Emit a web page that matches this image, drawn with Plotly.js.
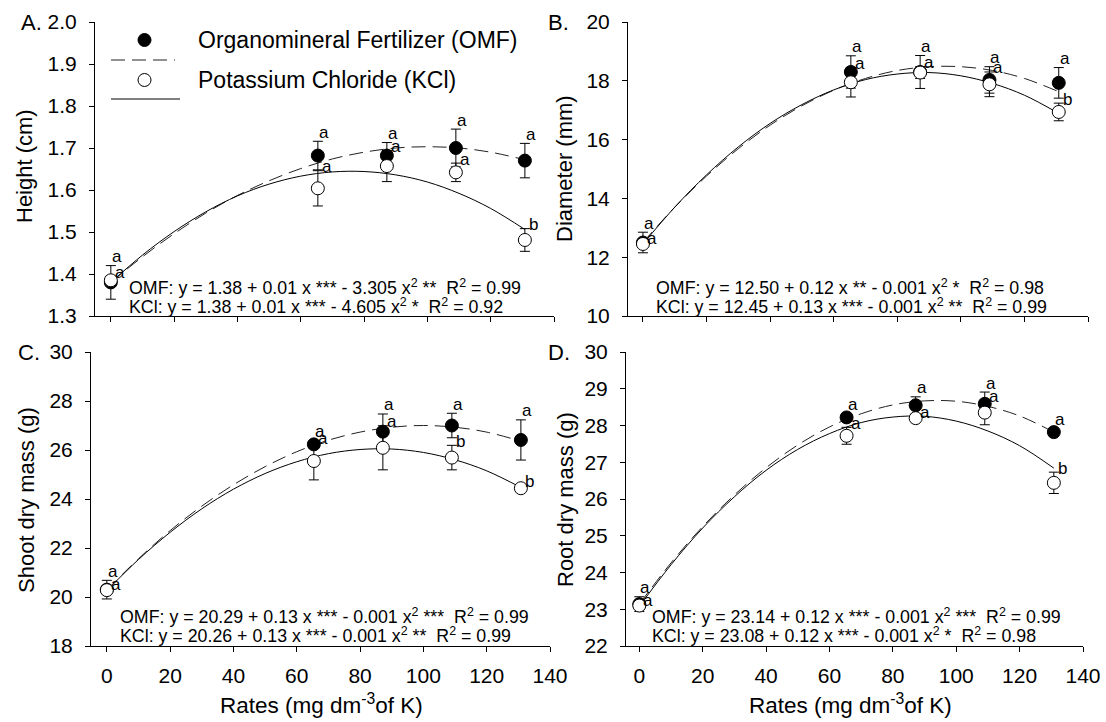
<!DOCTYPE html>
<html>
<head>
<meta charset="utf-8">
<script src="https://cdn.plot.ly/plotly-3.0.1.min.js"></script>
<style>html,body{margin:0;padding:0;background:#fff;}#chart{width:1106px;height:722px;}</style>
</head>
<body>
<div id="chart"></div>
<script>
// ---------- data ----------
const rates = [0, 65.4, 87.2, 109, 130.8];
const curveX = [0, 10, 20, 30, 40, 50, 60, 70, 80, 90, 100, 110, 120, 130.8];

const heightOMF = [1.38, 1.682, 1.682, 1.70, 1.67];
const heightOMFErr = [0.04, 0.034, 0.031, 0.045, 0.041];
const heightKCl = [1.385, 1.604, 1.657, 1.642, 1.481];
const heightKClErr = [0.01, 0.042, 0.037, 0.022, 0.027];
const heightOMFFit = [1.380, 1.441, 1.496, 1.545, 1.587, 1.622, 1.651, 1.674, 1.690, 1.700, 1.703, 1.700, 1.690, 1.672];
const heightKClFit = [1.380, 1.445, 1.501, 1.548, 1.586, 1.614, 1.633, 1.643, 1.644, 1.636, 1.619, 1.592, 1.556, 1.506];

const diamOMF = [12.50, 18.30, 18.30, 18.03, 17.93];
const diamOMFErr = [0.35, 0.55, 0.56, 0.45, 0.52];
const diamKCl = [12.45, 17.95, 18.28, 17.88, 16.94];
const diamKClErr = [0.05, 0.5, 0.2, 0.42, 0.3];
const diamOMFFit = [12.50, 13.70, 14.76, 15.69, 16.49, 17.15, 17.68, 18.08, 18.35, 18.48, 18.48, 18.35, 18.08, 17.63];
const diamKClFit = [12.45, 13.70, 14.80, 15.75, 16.55, 17.19, 17.69, 18.04, 18.23, 18.28, 18.17, 17.91, 17.51, 16.89];

const shootOMF = [20.30, 26.23, 26.75, 27.00, 26.41];
const shootOMFErr = [0.38, 0.15, 0.72, 0.5, 0.82];
const shootKCl = [20.28, 25.55, 26.09, 25.69, 24.44];
const shootKClErr = [0.05, 0.77, 0.9, 0.5, 0.1];
const shootOMFFit = [20.29, 21.56, 22.71, 23.71, 24.58, 25.32, 25.93, 26.40, 26.73, 26.93, 27.00, 26.93, 26.73, 26.36];
const shootKClFit = [20.26, 21.53, 22.64, 23.60, 24.40, 25.04, 25.52, 25.85, 26.02, 26.04, 25.90, 25.60, 25.15, 24.47];

const rootOMF = [23.14, 28.22, 28.55, 28.59, 27.82];
const rootOMFErr = [0.2, 0.1, 0.23, 0.32, 0.1];
const rootKCl = [23.10, 27.72, 28.20, 28.35, 26.44];
const rootKClErr = [0.02, 0.23, 0.05, 0.33, 0.29];
const rootOMFFit = [23.14, 24.26, 25.25, 26.11, 26.85, 27.47, 27.96, 28.32, 28.56, 28.67, 28.66, 28.52, 28.26, 27.82];
const rootKClFit = [23.08, 24.21, 25.21, 26.06, 26.78, 27.35, 27.78, 28.08, 28.23, 28.25, 28.12, 27.85, 27.45, 26.84];

const lettersOMF_A = ['a', 'a', 'a', 'a', 'a'];
const lettersKCl_A = ['a', 'a', 'a', 'a', 'b'];
const lettersOMF_B = ['a', 'a', 'a', 'a', 'a'];
const lettersKCl_B = ['a', 'a', 'a', 'a', 'b'];
const lettersOMF_C = ['a', 'a', 'a', 'a', 'a'];
const lettersKCl_C = ['a', 'a', 'a', 'b', 'b'];
const lettersOMF_D = ['a', 'a', 'a', 'a', 'a'];
const lettersKCl_D = ['a', 'a', 'a', 'a', 'b'];

const xTicks = [0, 20, 40, 60, 80, 100, 120, 140];
const eqA = ['OMF: y = 1.38 + 0.01 x *** - 3.305 x<sup>2</sup> ** &nbsp;R<sup>2</sup> = 0.99',
             'KCl: y = 1.38 + 0.01 x *** - 4.605 x<sup>2</sup> * &nbsp;R<sup>2</sup> = 0.92'];
const eqB = ['OMF: y = 12.50 + 0.12 x ** - 0.001 x<sup>2</sup> * &nbsp;R<sup>2</sup> = 0.98',
             'KCl: y = 12.45 + 0.13 x *** - 0.001 x<sup>2</sup> ** &nbsp;R<sup>2</sup> = 0.99'];
const eqC = ['OMF: y = 20.29 + 0.13 x *** - 0.001 x<sup>2</sup> *** &nbsp;R<sup>2</sup> = 0.99',
             'KCl: y = 20.26 + 0.13 x *** - 0.001 x<sup>2</sup> ** &nbsp;R<sup>2</sup> = 0.99'];
const eqD = ['OMF: y = 23.14 + 0.12 x *** - 0.001 x<sup>2</sup> *** &nbsp;R<sup>2</sup> = 0.99',
             'KCl: y = 23.08 + 0.12 x *** - 0.001 x<sup>2</sup> * &nbsp;R<sup>2</sup> = 0.98'];
const yTitles = ['Height (cm)', 'Diameter (mm)', 'Shoot dry mass (g)', 'Root dry mass (g)'];
const panelLabels = ['A.', 'B.', 'C.', 'D.'];
const xTitle = 'Rates (mg dm<sup>-3</sup>of K)';
const legendNames = ['Organomineral Fertilizer (OMF)', 'Potassium Chloride (KCl)'];

// ---------- helpers ----------
const W = 1106, H = 722;
const FONT = 'Liberation Sans, Arial, sans-serif';
const px = v => v / W;
const py = v => 1 - v / H;

const traces = [];
const annotations = [];
function letters(ax, vals, errs, labs, dx, dy) {
  const xr = 'x' + ax, yr = 'y' + ax;
  vals.forEach((v, i) => {
    annotations.push({xref: xr, yref: yr, x: rates[i], y: v + errs[i], text: labs[i], showarrow: false,
      xanchor: 'left', yanchor: 'middle', xshift: dx, yshift: dy, borderpad: 0,
      font: {family: FONT, size: 17, color: '#000'}});
  });
}
function panel(ax, omf, omfErr, kcl, kclErr, omfFit, kclFit, lo, lk) {
  const xa = 'x' + ax, ya = 'y' + ax;
  traces.push({x: curveX, y: omfFit, xaxis: xa, yaxis: ya, mode: 'lines', line: {shape: 'spline', color: '#222', width: 1, dash: '14px,7px'}, hoverinfo: 'skip'});
  traces.push({x: curveX, y: kclFit, xaxis: xa, yaxis: ya, mode: 'lines', line: {shape: 'spline', color: '#000', width: 1}, hoverinfo: 'skip'});
  traces.push({x: rates, y: omf, xaxis: xa, yaxis: ya, mode: 'markers', cliponaxis: false,
    marker: {symbol: 'circle', size: 13, color: '#000', line: {color: '#000', width: 1}},
    error_y: {type: 'data', array: omfErr, visible: true, color: '#000', thickness: 1, width: 5}});
  traces.push({x: rates, y: kcl, xaxis: xa, yaxis: ya, mode: 'markers', cliponaxis: false,
    marker: {symbol: 'circle', size: 13, color: '#fff', line: {color: '#000', width: 1}},
    error_y: {type: 'data', array: kclErr, visible: true, color: '#000', thickness: 1, width: 5}});
  letters(ax, omf, omfErr, lo, 0, 9);
  letters(ax, kcl, kclErr, lk, 3, 4);
}
panel('', heightOMF, heightOMFErr, heightKCl, heightKClErr, heightOMFFit, heightKClFit, lettersOMF_A, lettersKCl_A);
panel('2', diamOMF, diamOMFErr, diamKCl, diamKClErr, diamOMFFit, diamKClFit, lettersOMF_B, lettersKCl_B);
panel('3', shootOMF, shootOMFErr, shootKCl, shootKClErr, shootOMFFit, shootKClFit, lettersOMF_C, lettersKCl_C);
panel('4', rootOMF, rootOMFErr, rootKCl, rootKClErr, rootOMFFit, rootKClFit, lettersOMF_D, lettersKCl_D);

function xAxis(l, r, lo, anchor, labels) {
  return {domain: [px(l), px(r)], range: [lo, 140], anchor: anchor, tickvals: xTicks, showticklabels: labels,
    ticks: 'outside', ticklen: 5, tickwidth: 1, tickcolor: '#000', showline: true, linecolor: '#000', linewidth: 1,
    showgrid: false, zeroline: false, ticklabelstandoff: 6, tickfont: {family: FONT, size: 21, color: '#000'}, fixedrange: true};
}
function yAxis(top, bot, range, dtick, fmt, anchor) {
  return {domain: [py(bot), py(top)], range: range, anchor: anchor, dtick: dtick, tick0: range[0], tickformat: fmt,
    ticks: 'outside', ticklen: 5, tickwidth: 1, tickcolor: '#000', showline: true, linecolor: '#000', linewidth: 1,
    showgrid: false, zeroline: false, ticklabelstandoff: 8, tickfont: {family: FONT, size: 21, color: '#000'}, fixedrange: true};
}

function txt(x, y, text, size, opts) {
  annotations.push(Object.assign({xref: 'paper', yref: 'paper', x: px(x), y: py(y), text: text, showarrow: false,
    xanchor: 'left', yanchor: 'middle', font: {family: FONT, size: size, color: '#000'}}, opts || {}));
}
// equations
[[eqA, 127, 287], [eqB, 654, 287], [eqC, 118, 616], [eqD, 650, 616]].forEach(([eq, x, y]) => {
  txt(x, y, eq[0], 17.8);
  txt(x, y + 19, eq[1], 17.8);
});
// panel labels
[[19, 22], [546, 22], [16, 352], [546, 352]].forEach(([x, y], i) => txt(x, y, panelLabels[i], 22));
// y titles
[[24, 166], [564, 169], [26, 500], [565, 500]].forEach(([x, y], i) => txt(x, y, yTitles[i], 22, {textangle: -90, xanchor: 'center'}));
// x titles
[[321, 704], [851, 704]].forEach(([x, y]) => txt(x, y, xTitle, 22.5, {xanchor: 'center'}));
// legend text
txt(196, 40, legendNames[0], 23);
txt(196, 80, legendNames[1], 23);

const shapes = [
  {type: 'circle', xref: 'paper', yref: 'paper', x0: px(138), x1: px(151), y0: py(46.5), y1: py(33.5), fillcolor: '#000', line: {color: '#000', width: 1}},
  {type: 'circle', xref: 'paper', yref: 'paper', x0: px(138), x1: px(151), y0: py(86.5), y1: py(73.5), fillcolor: '#fff', line: {color: '#000', width: 1}},
  {type: 'line', xref: 'paper', yref: 'paper', x0: px(111), x1: px(175), y0: py(60), y1: py(60), line: {color: '#222', width: 1, dash: '14px,7px'}},
  {type: 'line', xref: 'paper', yref: 'paper', x0: px(111), x1: px(180), y0: py(99), y1: py(99), line: {color: '#000', width: 1}}
];

const layout = {
  width: W, height: H, margin: {l: 0, r: 0, t: 0, b: 0}, paper_bgcolor: '#fff', plot_bgcolor: 'rgba(0,0,0,0)',
  showlegend: false, font: {family: FONT, color: '#000'},
  xaxis: xAxis(95, 554, -5, 'y', false),
  yaxis: yAxis(22, 316, [1.3, 2.0], 0.1, '.1f', 'x'),
  xaxis2: xAxis(628, 1088, -4.7, 'y2', false),
  yaxis2: yAxis(22, 316, [10, 20], 2, 'd', 'x2'),
  xaxis3: xAxis(91, 550, -5, 'y3', true),
  yaxis3: yAxis(352, 646, [18, 30], 2, 'd', 'x3'),
  xaxis4: xAxis(626, 1083, -4.2, 'y4', true),
  yaxis4: yAxis(352, 646, [22, 30], 1, 'd', 'x4'),
  annotations: annotations, shapes: shapes
};
Plotly.newPlot('chart', traces, layout, {displayModeBar: false, staticPlot: true});
</script>
</body>
</html>
